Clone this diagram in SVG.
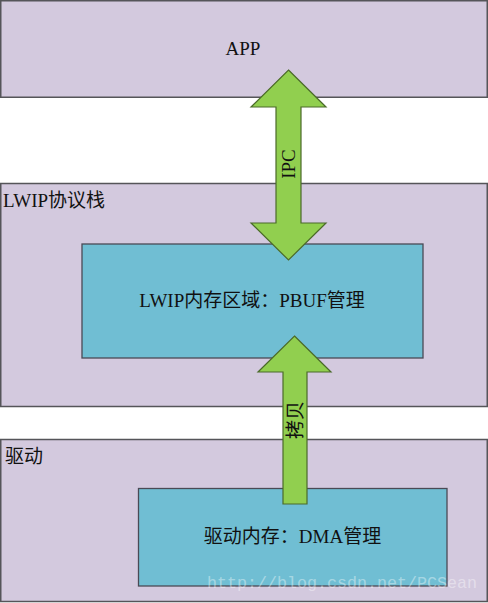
<svg xmlns="http://www.w3.org/2000/svg" width="488" height="603" viewBox="0 0 488 603">
  <style>
    .outer { fill: #d3c9de; stroke: #555559; stroke-width: 1.5; }
    .inner { fill: #70bed3; stroke: #4a4a55; stroke-width: 1.3; }
    .arrow { fill: #91cf4f; stroke: #4b6a2a; stroke-width: 1.2; stroke-linejoin: miter; }
    .lbl { font-family: "Liberation Serif", "Noto Sans CJK SC", serif; font-size: 19px; fill: #111; }
    .mid { text-anchor: middle; }
    .wm { font-family: "Liberation Mono", monospace; font-size: 17px; fill: #ffffff; fill-opacity: 0.4; }
  </style>
  <rect width="488" height="603" fill="#ffffff"/>

  <g id="app">
    <rect class="outer" x="0.75" y="0.75" width="486.5" height="96.5"/>
    <text class="lbl mid" x="243" y="55" font-size="18">APP</text>
  </g>

  <g id="lwip">
    <rect class="outer" x="0.75" y="183.5" width="486.5" height="223"/>
    <text class="lbl" x="3" y="207">LWIP协议栈</text>
  </g>

  <g id="lwip-mem">
    <rect class="inner" x="82" y="244" width="341" height="114"/>
    <text class="lbl mid" x="252" y="307">LWIP内存区域：PBUF管理</text>
  </g>

  <g id="driver">
    <rect class="outer" x="0.75" y="439.5" width="486.5" height="162"/>
    <text class="lbl" x="5" y="463">驱动</text>
  </g>

  <g id="driver-mem">
    <rect class="inner" x="138.5" y="488.5" width="308.5" height="97.5"/>
    <text class="lbl mid" x="292.5" y="543">驱动内存：DMA管理</text>
    <text class="wm" x="207" y="588" textLength="270" lengthAdjust="spacingAndGlyphs">http://blog.csdn.net/PCSean</text>
  </g>

  <g id="connectors">
    <g id="ipc">
      <path class="arrow" d="M288.5,70 L326,107 L301,107 L301,223 L326,223 L288.5,260 L251,223 L276,223 L276,107 L251,107 Z"/>
      <text class="lbl mid" transform="translate(294.5,164) rotate(-90)" font-size="18">IPC</text>
    </g>
    <g id="copy">
      <path class="arrow" d="M294.5,336 L331,372 L307,372 L307,504 L283,504 L283,372 L258,372 Z"/>
      <text class="lbl mid" transform="translate(301.5,420) rotate(-90)">拷贝</text>
    </g>
  </g>
</svg>
